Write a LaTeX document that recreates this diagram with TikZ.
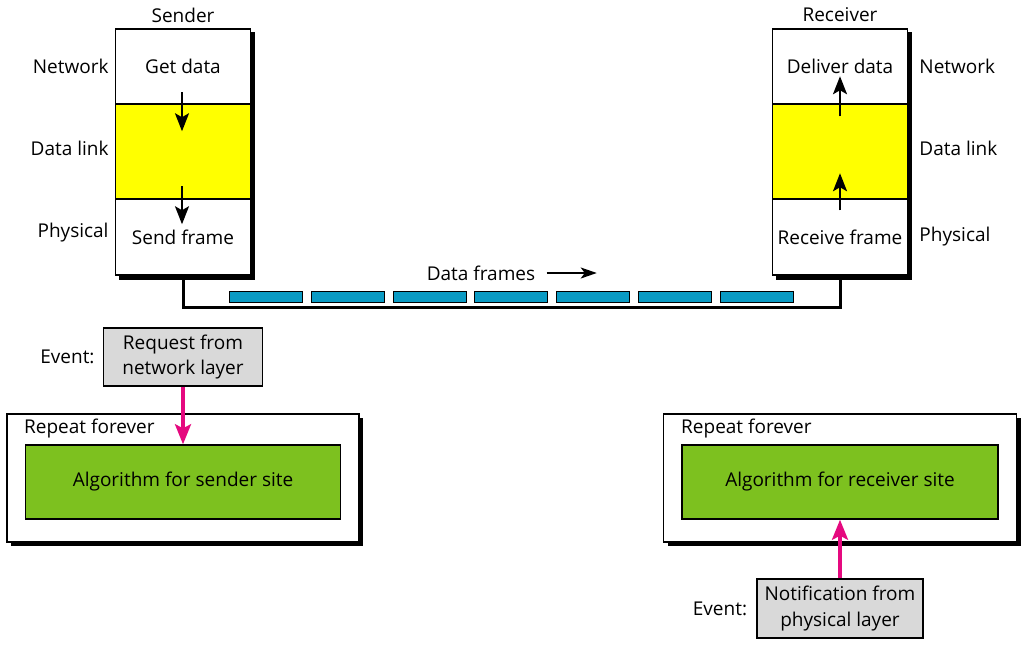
\documentclass[tikz,border=0pt]{standalone}
\usepackage{fontspec}
\setmainfont{Open Sans}
\usetikzlibrary{arrows.meta,shadows,positioning,calc,backgrounds}
\definecolor{linkyellow}{HTML}{FFFF00}
\definecolor{framebl}{HTML}{0A9BC4}
\definecolor{algogreen}{HTML}{7DC11F}
\definecolor{evgray}{HTML}{D9D9D9}
\definecolor{evpink}{HTML}{E5097F}

\tikzset{
  layer/.style={draw, line width=1.5pt, fill=white, minimum width=135, inner sep=0},
  sidelbl/.style={inner sep=0},
  frm/.style={draw, line width=1pt, fill=framebl, minimum width=73, minimum height=11, inner sep=0},
  arr/.style={line width=2.2pt, -{Stealth[length=18pt,width=14pt,inset=4pt]}},
  evarr/.style={evpink, line width=3.2pt, -{Stealth[length=20pt,width=16pt,inset=4pt]}},
  wire/.style={line width=3pt},
  loopbox/.style={draw, line width=1.5pt, fill=white, minimum height=128, inner sep=0,
    drop shadow={shadow xshift=4pt, shadow yshift=-4pt, fill=black, opacity=1}},
  algo/.style={draw, line width=1.5pt, fill=algogreen, minimum height=74, inner sep=0},
  event/.style={draw, line width=1.5pt, fill=evgray, align=center, inner sep=0,
    font=\fontsize{19}{25}\selectfont}
}

\begin{document}
\begin{tikzpicture}[x=1pt, y=-1pt, font=\fontsize{19}{22}\selectfont]
\useasboundingbox (0,0) rectangle (1024,646);

% sender stack
\node[layer, minimum height=75] (snet) at (183,66.5) {Get data};
\node[layer, fill=linkyellow, minimum height=95] (sdl) at (183,151.5) {};
\node[layer, minimum height=76] (sphy) at (183,237) {Send frame};
\node (sender) at (183,15) {Sender};
\node[sidelbl, left=6pt of snet] {Network};
\node[sidelbl, left=6pt of sdl, yshift=3pt] {Data link};
\node[sidelbl, left=6pt of sphy, yshift=4pt] {Physical};
\draw[arr] ([shift={(-1,-11)}]sdl.north) -- ++(0,39);
\draw[arr] ([shift={(-1,-12)}]sphy.north) -- ++(0,38);

% receiver stack
\node[layer, minimum height=75] (rnet) at (840,66.5) {Deliver data};
\node[layer, fill=linkyellow, minimum height=95] (rdl) at (840,151.5) {};
\node[layer, minimum height=76] (rphy) at (840,237) {Receive frame};
\node (receiver) at (840,15) {Receiver};
\node[sidelbl, right=11pt of rnet] {Network};
\node[sidelbl, right=11pt of rdl, yshift=3pt] {Data link};
\node[sidelbl, right=11pt of rphy] {Physical};
\draw[arr] ([shift={(0,13)}]rdl.north) -- ++(0,-40);
\draw[arr] ([shift={(0,12)}]rphy.north) -- ++(0,-37);

\begin{scope}[on background layer]
\fill[black] ([shift={(4,4)}]snet.north west) rectangle ([shift={(4,4)}]sphy.south east);
\fill[black] ([shift={(4,4)}]rnet.north west) rectangle ([shift={(4,4)}]rphy.south east);
\end{scope}

% link and frames
\draw[wire] (sphy.south) -- ++(0,32) -| (rphy.south);
\foreach \i in {0,...,6}
  \node[frm] (frame\i) at (266+81.8*\i,297) {};
\node (dflbl) at (481,273) {Data frames};
\draw[line width=1.6pt, -{Stealth[length=16pt,width=11pt,inset=4pt]}] ([xshift=8pt]dflbl.east) -- ++(50,0);

% sender algorithm
\node[loopbox, minimum width=352] (sloop) at (183,478) {};
\node[sidelbl, anchor=west] at (24,429) {Repeat forever};
\node[algo, minimum width=315] (salgo) at (183,482) {Algorithm for sender site};
\node[event, minimum width=159, minimum height=58] (sevent) at (183,357) {Request from\\network layer};
\node[sidelbl, left=8pt of sevent] {Event:};
\draw[evarr] (sevent.south) -- (sevent.south |- salgo.north);

% receiver algorithm
\node[loopbox, minimum width=353] (rloop) at (840,478) {};
\node[sidelbl, anchor=west] at (681,429) {Repeat forever};
\node[algo, minimum width=316] (ralgo) at (840,482) {Algorithm for receiver site};
\node[event, minimum width=166, minimum height=59] (revent) at (840,608.5) {Notification from\\physical layer};
\node[sidelbl, left=9pt of revent] {Event:};
\draw[evarr] (revent.north) -- (revent.north |- ralgo.south);
\end{tikzpicture}
\end{document}
